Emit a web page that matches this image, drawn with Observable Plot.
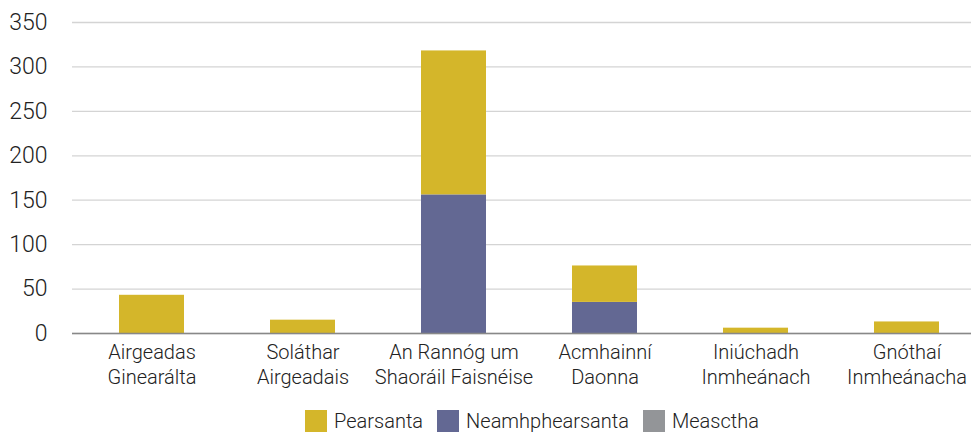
<!DOCTYPE html>
<html>
<head>
<meta charset="utf-8">
<script src="https://cdn.jsdelivr.net/npm/d3@7"></script>
<script src="https://cdn.jsdelivr.net/npm/@observablehq/plot@0.6"></script>
<style>
  html, body { margin: 0; padding: 0; background: #fff; overflow: hidden; width: 971px; height: 432px; }
  #chart { width: 986px; }
  .legend { display: flex; justify-content: center; align-items: center; width: 986px; box-sizing: border-box; padding-left: 78px; margin-top: 9px;
    font-family: Roboto, "Liberation Sans", sans-serif; font-weight: 300; font-size: 20px; color: #222; }
  .legend .item { display: flex; align-items: center; margin: 0 7px; }
  .legend .sw { width: 22px; height: 22px; margin-right: 7px; }
</style>
</head>
<body>
<div id="chart"></div>
<script>
const categories = ["Airgeadas\nGinearálta", "Soláthar\nAirgeadais", "An Rannóg um\nShaoráil Faisnéise", "Acmhainní\nDaonna", "Iniúchadh\nInmheánach", "Gnóthaí\nInmheánacha"];
const series = ["Pearsanta", "Neamhphearsanta", "Measctha"];
const colors = ["#d4b62a", "#636893", "#939598"];
const pearsanta = [43, 15, 162, 41, 6, 13];
const neamhphearsanta = [0, 0, 156, 35, 0, 0];
const measctha = [0, 0, 0, 0, 0, 0];
const yTicks = [0, 50, 100, 150, 200, 250, 300, 350];

const rows = [];
categories.forEach((c, i) => rows.push({cat: c, series: "Neamhphearsanta", value: neamhphearsanta[i]}));
categories.forEach((c, i) => rows.push({cat: c, series: "Pearsanta", value: pearsanta[i]}));
categories.forEach((c, i) => rows.push({cat: c, series: "Measctha", value: measctha[i]}));

const plot = Plot.plot({
  width: 986,
  height: 400,
  marginLeft: 72,
  marginRight: 0,
  marginTop: 22,
  marginBottom: 67,
  style: {fontFamily: "Roboto, 'Liberation Sans', sans-serif", fontWeight: 300, color: "#222", background: "#fff"},
  x: {domain: categories, paddingInner: 0.57, paddingOuter: 0.304, label: null},
  y: {domain: [0, 350], label: null},
  color: {domain: series, range: colors},
  marks: [
    Plot.gridY(yTicks, {stroke: "#d4d4d4", strokeOpacity: 1, strokeWidth: 1.3}),
    Plot.barY(rows, {x: "cat", y: "value", fill: "series"}),
    Plot.ruleY([0], {stroke: "#888", strokeWidth: 1.5}),
    Plot.axisY(yTicks, {tickSize: 0, tickPadding: 25, fontSize: 23, label: null, fill: "#222"}),
    Plot.axisX({tickSize: 0, tickPadding: 8, fontSize: 20, lineHeight: 1.25, label: null, fill: "#222"})
  ]
});
document.getElementById("chart").appendChild(plot);

const legend = document.createElement("div");
legend.className = "legend";
series.forEach((s, i) => {
  const item = document.createElement("div");
  item.className = "item";
  const sw = document.createElement("span");
  sw.className = "sw";
  sw.style.background = colors[i];
  const t = document.createElement("span");
  t.textContent = s;
  item.appendChild(sw); item.appendChild(t);
  legend.appendChild(item);
});
document.body.appendChild(legend);
</script>
</body>
</html>
